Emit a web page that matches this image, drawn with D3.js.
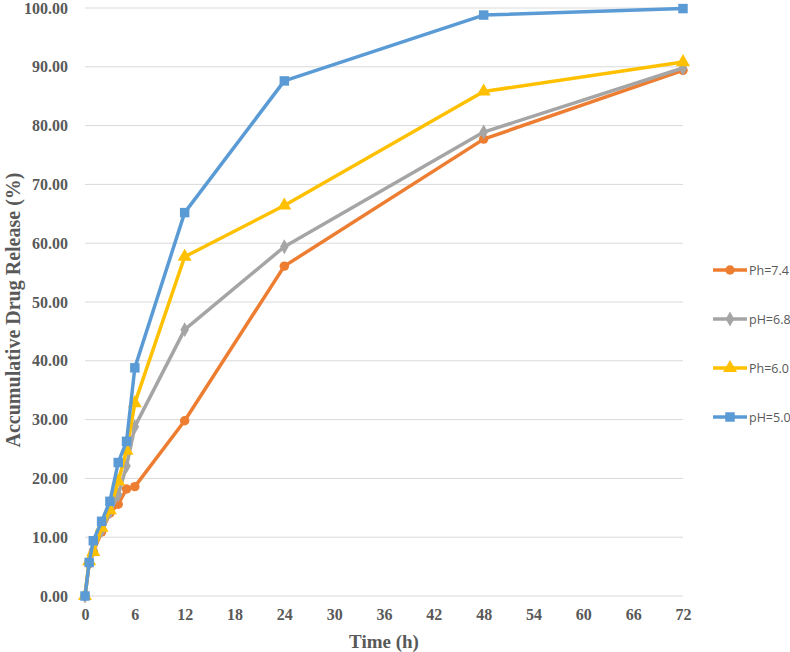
<!DOCTYPE html>
<html>
<head>
<meta charset="utf-8">
<script src="https://cdn.jsdelivr.net/npm/d3@7"></script>
<style>
  body { margin: 0; background: #fff; }
  .tick-label { font-family: "Liberation Serif", "Times New Roman", serif; font-weight: bold; fill: #595959; }
  .legend-label { font-family: "Open Sans", "Noto Sans", sans-serif; fill: #595959; }
</style>
</head>
<body>
<div id="chart"></div>
<script>
// svg size
var width = 790;
var height = 652;

// plot area
var margin = { top: 8, right: 107, bottom: 56, left: 85 };
var chartWidth = width - margin.left - margin.right;
var chartHeight = height - margin.top - margin.bottom;

// data
var times = [0, 0.5, 1, 2, 3, 4, 5, 6, 12, 24, 48, 72];
var ph74 = [0, 5.5, 7.5, 10.9, 14.1, 15.6, 18.2, 18.6, 29.8, 56.1, 77.7, 89.4];
var ph68 = [0, 5.6, 7.9, 11.2, 14.3, 17.2, 22.1, 28.8, 45.3, 59.4, 78.9, 89.8];
var ph60 = [0, 5.9, 7.5, 11.6, 14.6, 19.5, 24.7, 32.8, 57.7, 66.4, 85.8, 90.8];
var ph50 = [0, 5.7, 9.4, 12.7, 16.1, 22.7, 26.3, 38.8, 65.2, 87.6, 98.8, 99.9];
var seriesNames = ["Ph=7.4", "pH=6.8", "Ph=6.0", "pH=5.0"];
var xTicks = [0, 6, 12, 18, 24, 30, 36, 42, 48, 54, 60, 66, 72];
var yTicks = [0, 10, 20, 30, 40, 50, 60, 70, 80, 90, 100];

// styles per series
var colors = ["#ED7D31", "#A5A5A5", "#FFC000", "#5B9BD5"];
var symbols = [d3.symbolCircle, d3.symbolDiamond, d3.symbolTriangle, d3.symbolSquare];
var symbolSizes = [70, 64, 85, 90];

var series = [ph74, ph68, ph60, ph50].map(function(vals, i) {
  return {
    name: seriesNames[i],
    color: colors[i],
    symbol: symbols[i],
    size: symbolSizes[i],
    points: vals.map(function(v, j) { return { t: times[j], v: v }; })
  };
});

var svg = d3.select("#chart")
  .append("svg")
  .attr("width", width)
  .attr("height", height);

var chartGroup = svg.append("g")
  .attr("transform", `translate(${margin.left}, ${margin.top})`);

var x = d3.scaleLinear().domain([0, 72]).range([0, chartWidth]);
var y = d3.scaleLinear().domain([0, 100]).range([chartHeight, 0]);

// horizontal gridlines
chartGroup.selectAll("line.grid")
  .data(yTicks)
  .enter()
  .append("line")
  .attr("class", "grid")
  .attr("x1", 0)
  .attr("x2", chartWidth)
  .attr("y1", d => y(d))
  .attr("y2", d => y(d))
  .attr("stroke", "#D9D9D9")
  .attr("stroke-width", 1);

// y axis labels
var leftAxis = d3.axisLeft(y)
  .tickValues(yTicks)
  .tickSize(0)
  .tickPadding(17)
  .tickFormat(d3.format(".2f"));

var yAxis = chartGroup.append("g").call(leftAxis);
yAxis.select(".domain").remove();
yAxis.selectAll("text")
  .attr("class", "tick-label")
  .style("font-size", "16px");

// x axis labels
var bottomAxis = d3.axisBottom(x)
  .tickValues(xTicks)
  .tickSize(0)
  .tickPadding(13);

var xAxis = chartGroup.append("g")
  .attr("transform", `translate(0, ${chartHeight})`)
  .call(bottomAxis);
xAxis.select(".domain").remove();
xAxis.selectAll("text")
  .attr("class", "tick-label")
  .style("font-size", "16px");

// axis titles
svg.append("text")
  .attr("class", "tick-label")
  .attr("x", margin.left + chartWidth / 2)
  .attr("y", 648)
  .attr("text-anchor", "middle")
  .style("font-size", "19px")
  .text("Time (h)");

svg.append("text")
  .attr("class", "tick-label")
  .attr("transform", "translate(20, 310) rotate(-90)")
  .attr("text-anchor", "middle")
  .style("font-size", "20px")
  .text("Accumulative Drug Release (%)");

// lines and markers
var line = d3.line()
  .x(d => x(d.t))
  .y(d => y(d.v));

series.forEach(function(s) {
  var g = chartGroup.append("g");

  g.append("path")
    .datum(s.points)
    .attr("d", line)
    .attr("fill", "none")
    .attr("stroke", s.color)
    .attr("stroke-width", 3.5)
    .attr("stroke-linejoin", "round");

  g.selectAll("path.marker")
    .data(s.points)
    .enter()
    .append("path")
    .attr("class", "marker")
    .attr("d", d3.symbol().type(s.symbol).size(s.size))
    .attr("transform", d => `translate(${x(d.t)}, ${y(d.v)})`)
    .attr("fill", s.color);
});

// legend
var legendY = [270, 319, 368, 417];
var legend = svg.append("g");

series.forEach(function(s, i) {
  var row = legend.append("g")
    .attr("transform", `translate(713, ${legendY[i]})`);

  row.append("line")
    .attr("x1", 0)
    .attr("x2", 34)
    .attr("stroke", s.color)
    .attr("stroke-width", 3.5);

  row.append("path")
    .attr("d", d3.symbol().type(s.symbol).size(s.size))
    .attr("transform", "translate(17, 0)")
    .attr("fill", s.color);

  row.append("text")
    .attr("class", "legend-label")
    .attr("x", 36)
    .attr("y", 4.5)
    .style("font-size", "12.5px")
    .text(s.name);
});
</script>
</body>
</html>
